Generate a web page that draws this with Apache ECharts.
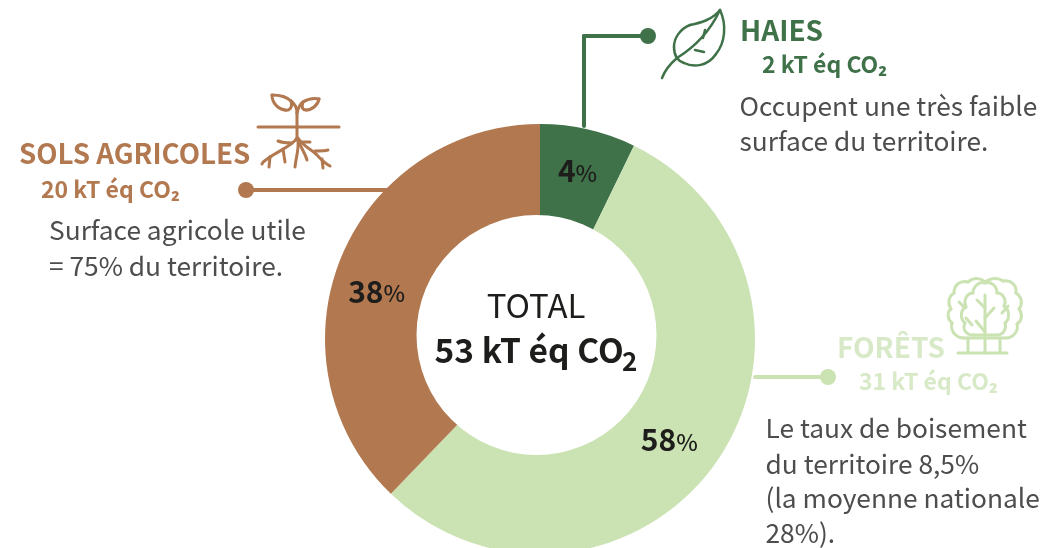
<!DOCTYPE html>
<html><head><meta charset="utf-8">
<style>html,body{margin:0;padding:0;background:#fff}#c{width:1056px;height:548px}</style>
<script src="https://cdn.jsdelivr.net/npm/echarts@6/dist/echarts.min.js"></script>
</head><body><div id="c"></div>
<script>
const categories = ['HAIES', 'FORÊTS', 'SOLS AGRICOLES'];
const arcShares = [7.2, 55, 37.8];
const percentLabels = ['4', '58', '38'];
const quantities = ['2 kT éq CO₂', '31 kT éq CO₂', '20 kT éq CO₂'];
const colors = ['#40724a', '#cbe2b3', '#b27850'];
const FONT = '"Noto Sans CJK SC","Noto Sans",sans-serif';
const gray = '#4d4d4d', ink = '#1d1d1b';
const labelOffsets = [[0,-5],[-8,5],[-8,15]];

function txt(x, y, text, size, weight, fill, align) {
  return {type:'text', z:10, style:{x, y, text, fill, textAlign:align||'left', textVerticalAlign:'middle',
    font:`${weight} ${size}px ${FONT}`}};
}
// turns a small M/L/C outline into line and bezierCurve graphic elements
function stroke(d, color, w) {
  const out = [], tok = d.match(/[MLC]|-?[\d.]+/g);
  const style = {stroke:color, lineWidth:w, lineCap:'round', fill:'none'};
  let i = 0, cmd, cx = 0, cy = 0;
  const n = () => parseFloat(tok[i++]);
  while (i < tok.length) {
    if (/[MLC]/.test(tok[i])) cmd = tok[i++];
    if (cmd === 'M') { cx = n(); cy = n(); cmd = 'L'; }
    else if (cmd === 'L') { const x = n(), y = n(); out.push({type:'line', z:10, shape:{x1:cx,y1:cy,x2:x,y2:y}, style}); cx = x; cy = y; }
    else if (cmd === 'C') { const a=n(),b=n(),c=n(),e=n(),x=n(),y=n(); out.push({type:'bezierCurve', z:10, shape:{x1:cx,y1:cy,cpx1:a,cpy1:b,cpx2:c,cpy2:e,x2:x,y2:y}, style}); cx=x; cy=y; }
  }
  return out;
}
function dot(x, y, color) { return {type:'circle', z:10, shape:{cx:x, cy:y, r:8}, style:{fill:color}}; }

const leaf = 'M720 10C712 20 700 23 690 25C680 29 674 38 674 47C674 56 678 61 684 63C694 68 708 66 716 54C725 43 727 25 720 10M720 10C712 27 698 45 677 58C670 64 665 70 662 78M695 50L704 52M703 38L705 30';
const plant = 'M258 127L339 127M297 113L297 140M297 113C297 107 295 104 291 101C286 96 279 95 272 95C272 103 278 109 285 110C289 111 293 108 291 101M297 113C298 109 300 104 303 102C308 99 314 98 319 99C318 105 312 110 306 110C303 110 301 108 303 102M297 138C292 146 280 150 270 157C266 160 263 161 262 164M270 157L269 167M283 149L285 162M278 141C283 143 288 143 292 143M298 138C303 146 312 150 316 154C320 158 324 163 330 166M315 151C320 151 325 151 328 150M322 159L323 168M298 140C299 150 296 157 295 167M299 142C301 148 305 153 307 160M302 142L310 142';
const tree = 'M964 338C955 338 950 330 952 323C947 319 947 312 951 309C947 303 949 296 954 293C954 285 960 280 968 282C974 277 981 278 985 282C990 278 998 277 1003 281C1011 280 1017 285 1016 293C1022 297 1023 304 1019 309C1023 314 1022 321 1017 324C1019 331 1013 338 1006 338L964 338M973 335C966 335 962 329 965 323C960 319 960 310 966 307C963 300 967 293 973 293C973 286 980 281 985 283C991 281 997 286 997 293C1003 293 1007 300 1004 306C1010 310 1010 319 1005 323C1007 329 1003 335 997 335L973 335M985 295L985 353M985 308L977 300M985 318L994 308M985 332L976 321M968 338L968 353M1000 338L1000 353M958 353L1007 353M966 318L972 325M959 302L965 308M1008 306L1002 313';

const chart = echarts.init(document.getElementById('c'), null, {renderer:'canvas'});
chart.setOption({
  animation:false,
  backgroundColor:'#fff',
  series:[{
    type:'pie', center:[540,339], radius:[114,215], startAngle:90, clockwise:true,
    silent:true, avoidLabelOverlap:false, labelLine:{show:false},
    data: categories.map((name,i)=>({name, value:arcShares[i], itemStyle:{color:colors[i]}, label:{offset:labelOffsets[i]}})),
    label:{show:true, position:'inside', fontFamily:FONT,
      formatter:p=>`{n|${percentLabels[p.dataIndex]}}{p|%}`,
      rich:{n:{fontSize:30, fontWeight:'bold', fontFamily:FONT, color:ink},
            p:{fontSize:23, fontFamily:FONT, fontWeight:500, color:ink, padding:[4,0,0,0]}}}
  }],
  graphic:[
    {type:'circle', z:5, shape:{cx:536.5, cy:335, r:120}, style:{fill:'#fff'}},
    txt(536, 305, 'TOTAL', 33, 'normal', ink, 'center'),
    txt(434.5, 350, '53 kT éq CO', 33.5, 'bold', ink),
    txt(622, 361, '2', 26, 'bold', ink),

    ...stroke('M584 126L584 36L648 36', colors[0], 4), dot(648,36,colors[0]),
    ...stroke('M386 190L246 190', colors[2], 4), dot(246,190,colors[2]),
    ...stroke('M755 377L828 377', colors[1], 4), dot(828,377,colors[1]),

    ...stroke(leaf, colors[0], 2.5), ...stroke(plant, colors[2], 3), ...stroke(tree, colors[1], 3),

    txt(740, 30, categories[0], 28, 'bold', colors[0]),
    txt(762, 64, quantities[0], 23, 'bold', colors[0]),
    txt(739.5, 106, 'Occupent une très faible', 26.3, 'normal', gray),
    txt(739.5, 141, 'surface du territoire.', 26.3, 'normal', gray),

    txt(19, 153, categories[2], 27.7, 'bold', colors[2]),
    txt(41, 189, quantities[2], 23, 'bold', colors[2]),
    txt(49, 230, 'Surface agricole utile', 26.3, 'normal', gray),
    txt(49, 266, '= 75% du territoire.', 26.3, 'normal', gray),

    txt(837, 347, categories[1], 28, 'bold', '#d8e9c8'),
    txt(859, 381, quantities[1], 23, 'bold', '#d8e9c8'),
    txt(765.5, 428, 'Le taux de boisement', 26.3, 'normal', gray),
    txt(765.5, 464, 'du territoire 8,5%', 26.3, 'normal', gray),
    txt(765.5, 498, '(la moyenne nationale', 26.3, 'normal', gray),
    txt(765.5, 533, '28%).', 26.3, 'normal', gray)
  ]
});
</script></body></html>
